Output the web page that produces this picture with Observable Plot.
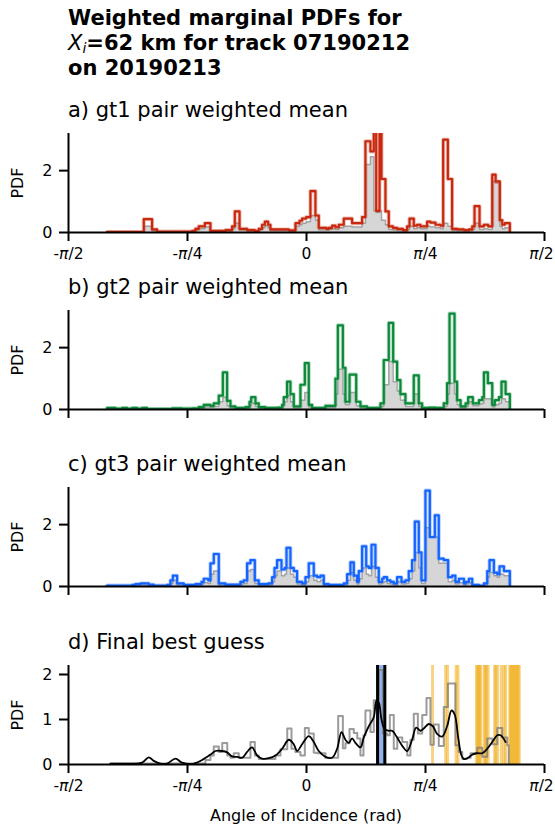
<!DOCTYPE html>
<html><head><meta charset="utf-8">
<script src="https://cdn.jsdelivr.net/npm/d3@7"></script>
<script src="https://cdn.jsdelivr.net/npm/@observablehq/plot@0.6"></script>
<style>
body{margin:0;background:#fff;font-family:"DejaVu Sans",sans-serif;}
#wrap{position:relative;width:555px;height:829px;overflow:hidden;}
.t{position:absolute;left:68px;white-space:nowrap;color:#000;}
.title{font-weight:bold;font-size:21px;line-height:25px;top:6px;}
.sub{font-size:21px;line-height:22px;}
.ylab{position:absolute;width:60px;text-align:center;font-size:16px;line-height:18px;transform:rotate(-90deg);}
.xlab{position:absolute;width:300px;text-align:center;font-size:16px;line-height:18px;left:156px;top:807px;}
.panel{position:absolute;left:0;}
</style></head><body><div id="wrap"></div>
<script>
const PI = Math.PI;
const xTickValues = [-PI/2, -PI/4, 0, PI/4, PI/2];
const xTickLabels = ["-π/2", "-π/4", "0", "π/4", "π/2"];
const panelTitles = ["a) gt1 pair weighted mean", "b) gt2 pair weighted mean", "c) gt3 pair weighted mean", "d) Final best guess"];

// panel a (gt1): step edges (rad), weighted mean, gray members
const aEdges = [-1.316,-1.074,-1.019,-0.986,-0.755,-0.733,-0.711,-0.671,-0.634,-0.535,-0.491,-0.473,-0.442,-0.392,-0.341,-0.315,-0.293,-0.275,-0.253,-0.238,-0.161,-0.117,-0.073,-0.046,-0.029,-0.002,0.026,0.059,0.081,0.132,0.147,0.169,0.191,0.213,0.246,0.301,0.367,0.389,0.422,0.444,0.460,0.482,0.495,0.521,0.543,0.570,0.598,0.636,0.664,0.680,0.708,0.730,0.752,0.796,0.818,0.851,0.884,0.902,0.933,0.961,0.994,1.039,1.072,1.094,1.109,1.142,1.171,1.199,1.226,1.248,1.276,1.292,1.309,1.342];
const aMean = [0.02,0.43,0.1,0.03,0.05,0.12,0.2,0.3,0.05,0.08,0.2,0.68,0.12,0.08,0.05,0.12,0.25,0.35,0.25,0.1,0.1,0.07,0.3,0.38,0.45,0.5,1.34,0.55,0.15,0.12,0.15,0.22,0.17,0.25,0.45,0.3,0.5,2.95,2.62,3.6,0.7,3.6,1.73,0.68,0.2,0.15,0.12,0.08,0.2,0.45,0.22,0.25,0.2,0.35,0.32,0.25,0.22,3.0,1.73,0.12,0.1,0.08,0.1,0.2,0.85,0.2,0.25,0.2,1.87,1.65,0.4,0.25,0.3];
const aGray = [0.01,0.2,0.05,0.02,0.03,0.08,0.12,0.18,0.03,0.05,0.12,0.3,0.08,0.05,0.03,0.08,0.15,0.22,0.15,0.06,0.06,0.04,0.2,0.25,0.3,0.35,0.55,0.4,0.08,0.08,0.1,0.12,0.1,0.15,0.2,0.18,0.3,2.2,2.45,0.7,0.65,0.7,0.4,0.25,0.1,0.08,0.06,0.04,0.1,0.2,0.12,0.15,0.12,0.2,0.18,0.15,0.12,0.3,0.2,0.06,0.05,0.04,0.05,0.1,0.3,0.1,0.12,0.1,1.65,1.6,0.2,0.12,0.15];

// panel b (gt2)
const bEdges = [-1.316,-1.261,-1.217,-1.184,-1.151,-1.118,-1.085,-1.052,-0.887,-0.821,-0.755,-0.711,-0.678,-0.634,-0.612,-0.579,-0.552,-0.524,-0.502,-0.469,-0.403,-0.376,-0.365,-0.337,-0.315,-0.271,-0.194,-0.161,-0.150,-0.128,-0.106,-0.084,-0.040,-0.011,0.015,0.037,0.125,0.191,0.207,0.240,0.257,0.284,0.328,0.356,0.400,0.488,0.510,0.543,0.572,0.598,0.620,0.653,0.708,0.741,0.763,0.807,0.851,0.906,0.928,0.944,0.977,0.994,1.017,1.050,1.067,1.098,1.138,1.160,1.171,1.197,1.226,1.243,1.270,1.287,1.314,1.342];
const bMean = [0.05,0.03,0.05,0.03,0.05,0.03,0.05,0.02,0.04,0.03,0.04,0.08,0.15,0.12,0.2,0.45,1.2,0.28,0.1,0.05,0.08,0.25,0.4,0.2,0.08,0.05,0.06,0.15,0.4,0.9,0.5,0.1,0.8,1.5,0.15,0.05,0.12,1.0,2.72,1.35,0.25,1.13,0.25,0.1,0.05,0.2,1.6,2.8,1.55,0.95,0.5,0.2,1.1,0.2,0.05,0.06,0.05,0.2,0.85,3.1,0.9,0.3,0.1,0.2,0.4,0.2,0.3,0.4,1.2,0.85,0.15,0.3,0.4,0.9,0.5];
const bGray = [0.02,0.02,0.02,0.02,0.02,0.02,0.02,0.01,0.02,0.02,0.02,0.04,0.08,0.07,0.1,0.25,0.4,0.12,0.05,0.03,0.04,0.12,0.2,0.1,0.04,0.03,0.03,0.08,0.25,0.45,0.25,0.05,0.3,0.55,0.08,0.03,0.06,0.5,1.3,0.5,0.15,0.55,0.12,0.05,0.03,0.1,0.8,1.55,0.9,0.6,0.3,0.1,0.5,0.1,0.03,0.03,0.03,0.1,0.5,0.85,0.5,0.15,0.06,0.1,0.25,0.12,0.18,0.2,0.35,0.35,0.08,0.15,0.2,0.35,0.25];

// panel c (gt3)
const cEdges = [-1.316,-1.151,-1.129,-1.096,-1.041,-1.008,-0.920,-0.898,-0.882,-0.854,-0.810,-0.733,-0.693,-0.678,-0.649,-0.634,-0.612,-0.579,-0.535,-0.469,-0.436,-0.414,-0.392,-0.370,-0.341,-0.315,-0.253,-0.227,-0.211,-0.194,-0.165,-0.143,-0.132,-0.106,-0.084,-0.062,-0.029,-0.007,0.015,0.048,0.070,0.092,0.114,0.147,0.246,0.268,0.290,0.312,0.334,0.345,0.367,0.394,0.411,0.429,0.455,0.477,0.499,0.510,0.532,0.554,0.576,0.598,0.627,0.653,0.675,0.697,0.715,0.741,0.759,0.785,0.814,0.847,0.873,0.906,0.935,0.961,0.983,1.006,1.039,1.050,1.072,1.094,1.138,1.171,1.193,1.208,1.237,1.259,1.274,1.303,1.342];
const cMean = [0.03,0.05,0.08,0.1,0.06,0.03,0.05,0.2,0.35,0.1,0.05,0.08,0.15,0.25,0.2,0.75,1.05,0.1,0.06,0.06,0.15,0.2,0.75,0.85,0.2,0.08,0.1,0.3,0.6,0.85,0.55,0.6,1.25,0.6,0.5,0.15,0.1,0.3,0.75,0.35,0.3,0.35,0.08,0.05,0.1,0.4,0.78,0.35,0.15,0.5,1.3,0.65,0.6,1.35,0.6,0.15,0.25,0.3,0.2,0.15,0.1,0.3,0.15,0.2,0.5,0.85,2.1,1.1,0.2,3.1,1.6,2.3,0.9,0.85,0.3,0.35,0.15,0.25,0.1,0.15,0.25,0.05,0.03,0.1,0.5,0.85,0.45,0.4,0.65,0.5];
const cGray = [0.01,0.02,0.04,0.05,0.03,0.01,0.02,0.1,0.2,0.05,0.02,0.04,0.08,0.12,0.1,0.4,0.5,0.05,0.03,0.03,0.08,0.1,0.5,0.55,0.1,0.04,0.05,0.15,0.35,0.5,0.35,0.4,0.6,0.4,0.3,0.08,0.05,0.15,0.35,0.2,0.15,0.2,0.04,0.02,0.05,0.2,0.45,0.2,0.08,0.25,0.6,0.4,0.35,0.65,0.3,0.08,0.12,0.15,0.1,0.08,0.05,0.15,0.08,0.1,0.25,0.5,1.1,0.6,0.1,1.9,1.6,1.6,0.75,0.75,0.15,0.2,0.08,0.12,0.05,0.08,0.12,0.02,0.02,0.05,0.3,0.45,0.35,0.3,0.4,0.35];

// panel d: combined histogram, smoothed PDF, candidate angles
const dEdges = [-1.294,-0.667,-0.634,-0.612,-0.579,-0.556,-0.523,-0.502,-0.480,-0.447,-0.370,-0.341,-0.315,-0.292,-0.205,-0.172,-0.127,-0.099,-0.073,-0.040,-0.011,0.015,0.048,0.071,0.125,0.209,0.240,0.257,0.284,0.312,0.335,0.356,0.376,0.389,0.422,0.444,0.477,0.504,0.533,0.550,0.576,0.599,0.632,0.665,0.686,0.708,0.735,0.764,0.792,0.818,0.840,0.873,0.906,0.933,0.983,1.005,1.028,1.061,1.083,1.127,1.160,1.193,1.226,1.259,1.292,1.325,1.335];
const dHist = [0.02,0.1,0.2,0.4,0.28,0.48,0.2,0.15,0.25,0.15,0.5,0.2,0.12,0.12,0.2,0.34,0.8,0.35,0.28,0.2,0.81,0.69,0.26,0.25,0.15,1.08,0.36,0.47,0.79,0.7,0.58,0.2,0.65,1.2,0.72,1.43,2.1,0.69,0.65,1.1,0.35,0.6,0.5,0.2,0.55,1.13,0.69,1.1,1.48,0.44,0.89,0.41,1.28,1.8,0.43,0.28,0.13,0.15,0.25,0.37,0.17,0.58,0.45,0.81,0.6,0.43];
const kdeX = [-1.294,-1.173,-1.085,-1.041,-1.008,-0.964,-0.920,-0.865,-0.821,-0.766,-0.733,-0.689,-0.634,-0.601,-0.557,-0.524,-0.491,-0.458,-0.425,-0.392,-0.359,-0.326,-0.293,-0.249,-0.205,-0.161,-0.117,-0.084,-0.062,-0.029,0.015,0.048,0.081,0.125,0.169,0.202,0.231,0.257,0.279,0.301,0.323,0.356,0.378,0.411,0.444,0.462,0.477,0.495,0.517,0.543,0.565,0.598,0.631,0.664,0.697,0.724,0.752,0.774,0.807,0.834,0.862,0.895,0.928,0.957,0.979,1.001,1.023,1.039,1.067,1.094,1.127,1.160,1.193,1.226,1.259,1.281,1.314];
const kdeY = [0.02,0.02,0.04,0.16,0.08,0.02,0.02,0.13,0.04,0.01,0.03,0.1,0.22,0.3,0.3,0.27,0.18,0.17,0.15,0.28,0.38,0.2,0.13,0.14,0.2,0.35,0.55,0.45,0.3,0.45,0.63,0.5,0.3,0.17,0.15,0.35,0.72,0.55,0.48,0.58,0.48,0.38,0.6,0.85,1.05,1.42,1.38,1.0,0.78,0.75,0.75,0.6,0.42,0.3,0.55,0.82,0.75,0.8,0.9,0.85,0.68,0.62,0.85,1.2,1.1,0.6,0.2,0.12,0.15,0.22,0.25,0.25,0.35,0.5,0.65,0.65,0.5];
const candidateAngles = [0.832,0.918,0.931,0.987,1.0,1.122,1.129,1.136,1.143,1.150,1.173,1.180,1.187,1.199,1.242,1.249,1.262,1.287,1.304,1.314,1.341,1.348,1.355,1.362,1.369,1.376,1.383,1.390,1.397,1.404];
const bestRange = [0.469, 0.517];

function stepPoints(edges, vals) {
  const n = Math.min(vals.length, edges.length - 1);
  const pts = [{x: edges[0], y: 0}];
  for (let i = 0; i < n; i++) { pts.push({x: edges[i], y: vals[i]}, {x: edges[i + 1], y: vals[i]}); }
  pts.push({x: edges[n], y: 0});
  return pts;
}
function tickLabel(d) {
  const i = xTickValues.findIndex(v => Math.abs(v - d) < 1e-9);
  return i >= 0 ? xTickLabels[i] : "";
}

const wrap = document.getElementById("wrap");
function addDiv(cls, html, style) {
  const el = document.createElement("div");
  el.className = cls; el.innerHTML = html;
  Object.assign(el.style, style || {});
  wrap.appendChild(el); return el;
}

addDiv("t title", 'Weighted marginal PDFs for<br><span style="font-weight:normal;font-style:italic">X<sub style="font-size:14px;vertical-align:-3px;line-height:0">i</sub></span>=62 km for track 07190212<br>on 20190213');

const tops = [133, 310, 487, 665];
const H = 99;

function panel(k, ymax, yticks, marks, showLabels) {
  const mt = 10, mb = showLabels ? 40 : 20;
  const svg = Plot.plot({
    width: 555, height: mt + H + mb,
    marginLeft: 68, marginRight: 11, marginTop: mt, marginBottom: mb,
    x: {domain: [-PI / 2, PI / 2]},
    y: {domain: [0, ymax]},
    style: {fontFamily: '"DejaVu Sans", sans-serif', fontSize: "16px", color: "#000", background: "transparent", overflow: "visible"},
    marks: [
      ...marks,
      Plot.axisX(xTickValues, {tickSize: 9, tickPadding: 6, strokeWidth: 2, fontSize: 15.5, tickFormat: d => showLabels ? tickLabel(d) : "", label: null}),
      Plot.axisY(yticks, {tickSize: 9, tickPadding: 7, strokeWidth: 2, fontSize: 16, tickFormat: d => String(d), label: null}),
      Plot.ruleY([0], {strokeWidth: 2}),
      Plot.ruleX([-PI / 2], {strokeWidth: 2})
    ]
  });
  svg.querySelectorAll("text").forEach(t => {
    const s = t.textContent;
    if (s.includes("π")) {
      t.innerHTML = s.replace("π", '<tspan font-style="italic">π</tspan>');
      if (s === "π/2") t.setAttribute("dx", "-3");
    }
  });
  const holder = document.createElement("div");
  holder.className = "panel";
  holder.style.top = (tops[k] - mt) + "px";
  holder.appendChild(svg);
  wrap.appendChild(holder);
  addDiv("t sub", panelTitles[k], {top: (tops[k] - 34) + "px"});
  addDiv("ylab", "PDF", {left: "-12px", top: (tops[k] + H / 2 - 9) + "px"});
}

function histMarks(edges, mean, gray, color) {
  const g = stepPoints(edges, gray), m = stepPoints(edges, mean);
  return [
    Plot.areaY(g, {x: "x", y1: 0, y2: "y", fill: "#b4b4b4", fillOpacity: 0.55, clip: true}),
    Plot.line(g, {x: "x", y: "y", stroke: "#9a9a9a", strokeWidth: 1.5, strokeOpacity: 0.85, clip: true}),
    Plot.line(m, {x: "x", y: "y", stroke: color, strokeOpacity: 0.3, strokeWidth: 4, clip: true}),
    Plot.line(m, {x: "x", y: "y", stroke: color, strokeWidth: 2.2, clip: true})
  ];
}

panel(0, 3.2, [0, 2], histMarks(aEdges, aMean, aGray, "#c8290e"), true);
panel(1, 3.2, [0, 2], histMarks(bEdges, bMean, bGray, "#0c8a3a"), false);
panel(2, 3.2, [0, 2], histMarks(cEdges, cMean, cGray, "#1464ff"), false);

const kde = kdeX.map((x, i) => ({x, y: kdeY[i]}));
panel(3, 2.2, [0, 1, 2], [
  Plot.ruleX(candidateAngles, {stroke: "#f0ae1e", strokeOpacity: 0.55, strokeWidth: 3, clip: true}),
  Plot.rect([{x1: bestRange[0], x2: bestRange[1]}], {x1: "x1", x2: "x2", fill: "#8fb3ea", clip: true}),
  Plot.line(stepPoints(dEdges, dHist), {x: "x", y: "y", stroke: "#7a7a7a", strokeOpacity: 0.75, strokeWidth: 2, clip: true}),
  Plot.ruleX(bestRange, {stroke: "#000", strokeWidth: 3, clip: true}),
  Plot.line(kde, {x: "x", y: "y", curve: "catmull-rom", stroke: "#000", strokeWidth: 1.8, clip: true})
], true);

addDiv("xlab", "Angle of Incidence (rad)");
</script></body></html>
